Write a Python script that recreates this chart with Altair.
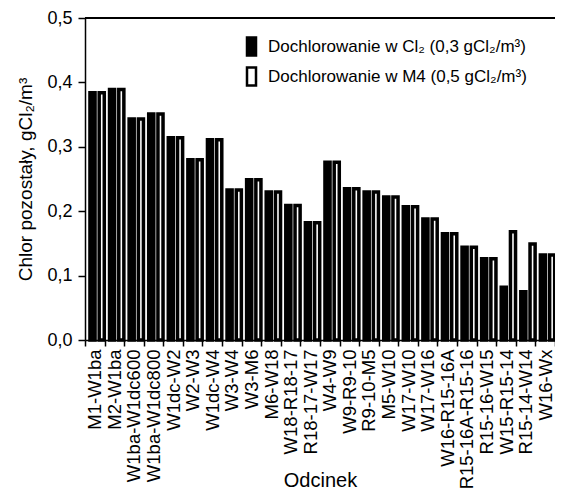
import altair as alt
import pandas as pd

cats = ["M1-W1ba", "M2-W1ba", "W1ba-W1dc600", "W1ba-W1dc800", "W1dc-W2", "W2-W3",
        "W1dc-W4", "W3-W4", "W3-M6", "M6-W18", "W18-R18-17", "R18-17-W17", "W4-W9",
        "W9-R9-10", "R9-10-M5", "M5-W10", "W17-W10", "W17-W16", "W16-R15-16A",
        "R15-16A-R15-16", "R15-16-W15", "W15-R15-14", "R15-14-W14", "W16-Wx"]
cl2 = [0.384, 0.389, 0.343, 0.351, 0.314, 0.280, 0.311, 0.233, 0.249, 0.230, 0.209, 0.182,
       0.276, 0.235, 0.230, 0.222, 0.207, 0.188, 0.165, 0.144, 0.126, 0.082, 0.075, 0.132]
m4 = [0.384, 0.389, 0.343, 0.351, 0.314, 0.280, 0.311, 0.233, 0.249, 0.230, 0.209, 0.182,
      0.276, 0.235, 0.230, 0.222, 0.207, 0.188, 0.165, 0.144, 0.126, 0.168, 0.149, 0.132]
series = ["Dochlorowanie w Cl₂ (0,3 gCl₂/m³)", "Dochlorowanie w M4 (0,5 gCl₂/m³)"]
y_ticks = [0.0, 0.1, 0.2, 0.3, 0.4, 0.5]

rows = []
for c, a, b in zip(cats, cl2, m4):
    rows.append({"odcinek": c, "seria": series[0], "wartosc": a})
    rows.append({"odcinek": c, "seria": series[1], "wartosc": b})
df = pd.DataFrame(rows)

FONT = "Liberation Sans"
W, H = 470, 322

bars = alt.Chart(df).mark_bar(
    stroke="black", strokeWidth=3.5, width=alt.RelativeBandSize(0.55)
).encode(
    x=alt.X("odcinek:N", sort=cats,
            scale=alt.Scale(paddingInner=0, paddingOuter=0),
            axis=alt.Axis(title="Odcinek", labelAngle=-90, labelAlign="right",
                          labelBaseline="middle", labelFontSize=18.5, labelFont=FONT,
                          labelColor="black", labelPadding=3, tickBand="extent",
                          tickSize=6, tickWidth=1.5, tickColor="black",
                          domainColor="black", domainWidth=1.5,
                          titleFontSize=20, titleFont=FONT, titleFontWeight="normal",
                          titleColor="black", titleY=146, titleBaseline="alphabetic",
                          labelLimit=300)),
    xOffset=alt.XOffset("seria:N", sort=series,
                        scale=alt.Scale(paddingInner=0, paddingOuter=0.06)),
    y=alt.Y("wartosc:Q", scale=alt.Scale(domain=[0, 0.5], nice=False),
            axis=alt.Axis(title="Chlor pozostały, gCl₂/m³", values=y_ticks, grid=False,
                          labelExpr="replace(format(datum.value, '.1f'), '.', ',')",
                          labelFontSize=18, labelFont=FONT, labelColor="black",
                          labelPadding=6, tickSize=7, tickWidth=1.5, tickColor="black",
                          domainColor="black", domainWidth=1.5,
                          titleFontSize=19, titleFont=FONT, titleFontWeight="normal",
                          titleColor="black", titlePadding=11)),
    fill=alt.Fill("seria:N", sort=series,
                  scale=alt.Scale(domain=series, range=["black", "white"]),
                  legend=alt.Legend(title=None, orient="none", legendX=156, legendY=18,
                                    symbolType="M-0.5,-1H0.5V1H-0.5Z", symbolSize=324,
                                    symbolStrokeColor="black", symbolStrokeWidth=2.5,
                                    labelFontSize=17, labelFont=FONT, labelColor="black",
                                    labelOffset=6, rowPadding=1, labelLimit=400)),
)

top_line = alt.Chart(df).mark_rule(color="black", strokeWidth=1.5).encode(
    x=alt.value(0), x2=alt.value(W), y=alt.value(0)
)

chart = alt.layer(bars, top_line).properties(
    width=W, height=H,
    autosize=alt.AutoSizeParams(type="none"),
    padding={"left": 77, "top": 10, "right": 0, "bottom": 150},
).configure_view(stroke=None)

chart.save("out.html", embed_options={"renderer": "svg", "actions": False})
